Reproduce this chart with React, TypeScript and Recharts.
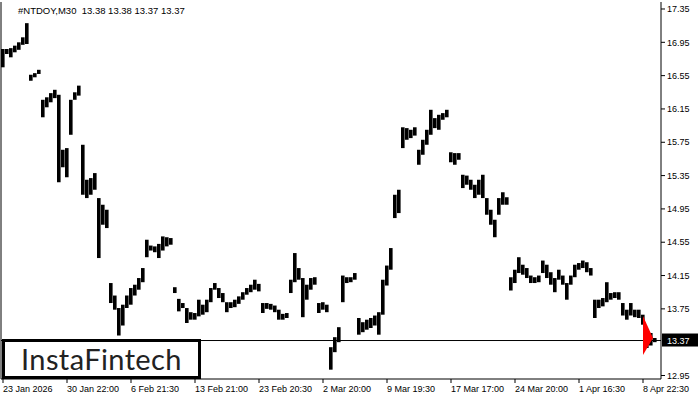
import { ComposedChart, Bar, Scatter, XAxis, YAxis, ReferenceLine } from "recharts"

// one row per label period (16 bars of M30 history, sampled)
const highs: (number | null)[] = [
  16.87, 16.87, 16.88, 16.91, 16.95, 17.01, 17.18, 16.56, 16.58, 16.62, 16.26, 16.29, 16.34, 16.38, 16.32, 15.66,
  15.68, 16.26, 16.35, 16.43, 15.72, 15.30, 15.32, 15.38, 15.08, 15.00, 14.94, 14.06, 13.91, 13.76, 13.80, 13.91,
  14.00, 14.04, 14.12, 14.24, 14.58, 14.51, 14.50, 14.53, 14.62, 14.61, 14.60, 14.01, 13.87, 13.82, 13.76, 13.71,
  13.70, 13.86, 13.80, 13.86, 14.00, 14.06, 14.00, 13.94, 13.83, 13.83, 13.86, 13.90, 13.95, 14.00, 14.04, 14.10,
  14.05, 13.82, 13.82, 13.81, 13.79, 13.74, 13.69, 13.70, 14.10, 14.42, 14.24, 14.12, 14.04, 14.12, 14.13, 13.82,
  13.83, 13.80, 13.29, 13.41, 13.53, 14.15, 14.13, 14.13, 14.18, 13.64, 13.59, 13.62, 13.64, 13.67, 13.71, 14.10,
  14.27, 14.48, 15.12, 15.18, 15.93, 15.92, 15.90, 15.93, 15.66, 15.78, 15.90, 16.14, 16.04, 16.08, 16.10, 16.14,
  15.63, 15.62, 15.62, 15.36, 15.35, 15.30, 15.24, 15.30, 15.36, 15.08, 14.94, 14.82, 15.08, 15.15, 15.09, 14.13,
  14.22, 14.37, 14.28, 14.24, 14.15, 14.13, 14.15, 14.33, 14.28, 14.19, 14.12, 14.22, 14.15, 14.06, 14.15, 14.28,
  14.30, 14.33, 14.31, 14.24, 13.86, 13.86, 13.88, 14.07, 13.94, 13.95, 13.95, 13.82, 13.74, 13.82, 13.74, 13.74,
  13.68, 13.50, 13.46, 13.40, null,
]

const lows: (number | null)[] = [
  16.65, 16.81, 16.77, 16.83, 16.86, 16.92, 16.93, 16.49, 16.53, 16.57, 16.05, 16.17, 16.23, 16.28, 15.27, 15.45,
  15.33, 15.84, 16.26, 16.31, 15.12, 15.08, 15.12, 15.18, 14.36, 14.76, 14.72, 13.82, 13.74, 13.43, 13.55, 13.76,
  13.80, 13.91, 13.98, 14.07, 14.37, 14.45, 14.43, 14.36, 14.45, 14.50, 14.52, 13.94, 13.72, 13.76, 13.58, 13.62,
  13.62, 13.66, 13.68, 13.71, 13.83, 13.98, 13.88, 13.83, 13.71, 13.76, 13.77, 13.81, 13.86, 13.92, 13.95, 13.98,
  13.96, 13.70, 13.75, 13.74, 13.71, 13.62, 13.62, 13.64, 13.94, 14.07, 14.10, 13.65, 13.86, 13.98, 14.04, 13.70,
  13.74, 13.71, 13.02, 13.23, 13.35, 13.83, 14.06, 14.07, 14.10, 13.44, 13.47, 13.50, 13.52, 13.55, 13.44, 13.68,
  14.03, 14.22, 14.84, 14.90, 15.68, 15.78, 15.80, 15.83, 15.48, 15.60, 15.72, 15.84, 15.92, 15.90, 16.02, 16.05,
  15.51, 15.48, 15.54, 15.20, 15.24, 15.18, 15.08, 15.12, 15.08, 14.88, 14.76, 14.61, 14.88, 15.00, 15.00, 13.97,
  14.06, 14.18, 14.16, 14.12, 14.06, 14.06, 14.07, 14.18, 14.12, 14.04, 13.95, 14.10, 14.04, 13.86, 14.04, 14.13,
  14.22, 14.24, 14.19, 14.15, 13.64, 13.76, 13.78, 13.83, 13.86, 13.88, 13.86, 13.67, 13.62, 13.67, 13.65, 13.64,
  13.56, 13.28, 13.31, 13.35, null,
]

const xLabels = [
  "23 Jan 2026", "30 Jan 22:00", "6 Feb 21:30", "13 Feb 21:00", "23 Feb 20:30", "2 Mar 20:00",
  "9 Mar 19:30", "17 Mar 17:00", "24 Mar 20:00", "1 Apr 16:30", "8 Apr 22:30",
]
const barsPerLabel = 16
const yTicks = [12.95, 13.75, 14.15, 14.55, 14.95, 15.35, 15.75, 16.15, 16.55, 16.95, 17.35]
const lastPrice = 13.37
const signalBar = 161
const signalPrice = 13.4
const title = "#NTDOY,M30  13.38 13.38 13.37 13.37"

const FONT = "'Liberation Sans', Arial, sans-serif"

const data = highs.map((h, i) => ({
  bar: i,
  range: h == null || lows[i] == null ? null : [lows[i], h],
  signal: i === signalBar ? signalPrice : null,
}))

const tickBars = xLabels.map((_, k) => k * barsPerLabel)

const XTick = (props: any) => {
  const { x, y, payload } = props
  return (
    <text x={x} y={y + 9} fontSize={9} fontFamily={FONT} fill="#000" textAnchor="start">
      {xLabels[payload.value / barsPerLabel]}
    </text>
  )
}

const PriceLabel = (props: any) => {
  const { viewBox } = props
  if (!viewBox) return null
  const x = viewBox.x + viewBox.width + 1
  const y = viewBox.y
  return (
    <g>
      <rect x={x} y={y - 7} width={36} height={13} fill="#000" />
      <text x={x + 5} y={y + 3} fontSize={9} fontFamily={FONT} fill="#fff">
        {lastPrice.toFixed(2)}
      </text>
    </g>
  )
}

const SignalShape = (props: any) => {
  const { cx, cy, payload } = props
  if (!payload || payload.signal == null || cx == null || cy == null) return <g />
  const pts = `${cx - 4},${cy - 22} ${cx + 6},${cy} ${cx - 4},${cy + 17}`
  return <polygon points={pts} fill="#ff0000" />
}

export default function App() {
  return (
    <div style={{ position: "absolute", left: 0, top: 0, width: 700, height: 400, background: "#fff" }}>
      <ComposedChart width={700} height={400} data={data} margin={{ top: 2, right: 0, bottom: 0, left: 0 }} barCategoryGap={0}>
        <XAxis
          dataKey="bar"
          type="category"
          ticks={tickBars}
          interval={0}
          tickSize={4}
          tickMargin={0}
          height={21}
          tick={<XTick />}
          axisLine={{ stroke: "#000" }}
          tickLine={{ stroke: "#000" }}
        />
        <YAxis
          yAxisId="frame"
          orientation="left"
          width={1}
          domain={[0, 1]}
          tick={false}
          tickLine={false}
          axisLine={{ stroke: "#000" }}
        />
        <YAxis
          yAxisId="price"
          orientation="right"
          type="number"
          width={39}
          domain={[12.908, 17.434]}
          allowDataOverflow
          ticks={yTicks}
          interval={0}
          tickSize={4}
          tickMargin={2}
          tickFormatter={(v: number) => v.toFixed(2)}
          tick={{ fontSize: 9, fontFamily: FONT, fill: "#000" }}
          axisLine={{ stroke: "#000" }}
          tickLine={{ stroke: "#000" }}
        />
        <ReferenceLine yAxisId="price" y={lastPrice} stroke="#000" strokeWidth={1} label={<PriceLabel />} />
        <Scatter yAxisId="price" dataKey="signal" shape={<SignalShape />} isAnimationActive={false} />
        <Bar yAxisId="price" dataKey="range" fill="#000" barSize={4} isAnimationActive={false} />
      </ComposedChart>
      <div
        style={{
          position: "absolute",
          left: 18,
          top: 5,
          fontSize: 9.5,
          fontFamily: FONT,
          color: "#000",
          whiteSpace: "pre",
          lineHeight: "11px",
        }}
      >
        {title}
      </div>
      <div
        style={{
          position: "absolute",
          left: 2,
          top: 339,
          width: 199,
          height: 40,
          boxSizing: "border-box",
          border: "3px solid #000",
          background: "#fff",
          display: "flex",
          alignItems: "center",
          justifyContent: "flex-start",
          paddingLeft: 16,
          fontFamily: "Lato, sans-serif",
          fontSize: 29,
          letterSpacing: 0.4,
          color: "#222",
          lineHeight: "34px",
          whiteSpace: "nowrap",
        }}
      >
        InstaFintech
      </div>
    </div>
  )
}
